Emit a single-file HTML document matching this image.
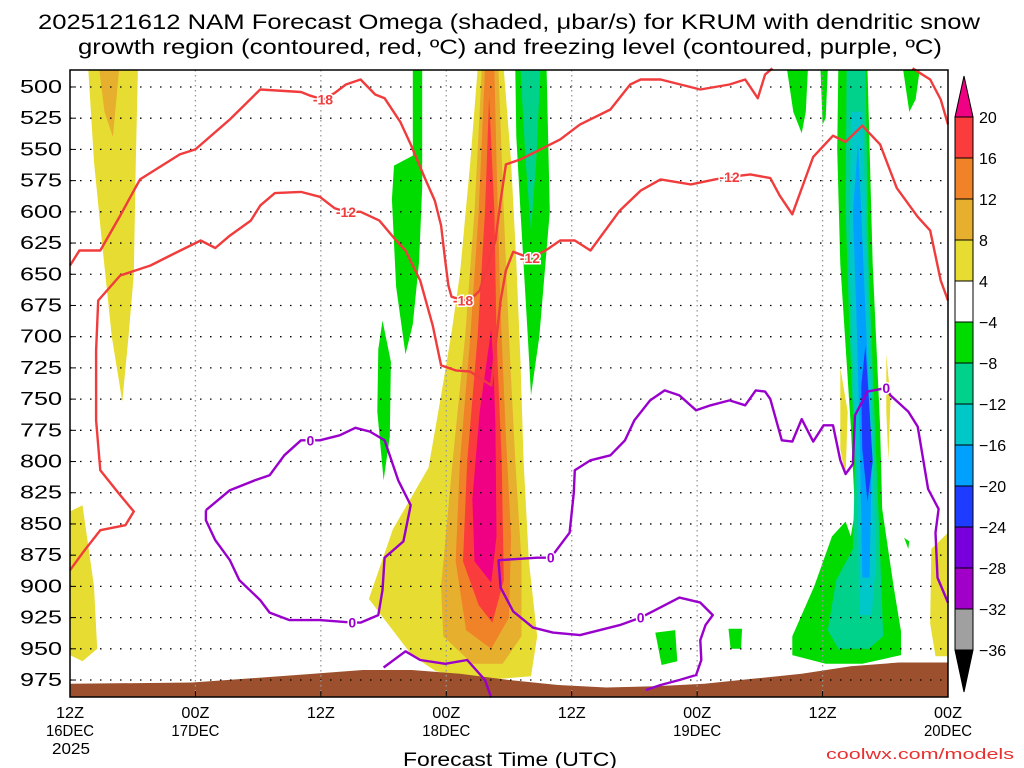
<!DOCTYPE html>
<html><head><meta charset="utf-8"><style>
body{margin:0;background:#fff}
svg{display:block;font-family:"Liberation Sans",sans-serif}
</style></head><body>
<svg id="chart" width="1024" height="768" viewBox="0 0 1024 768" xmlns="http://www.w3.org/2000/svg">
<text x="38" y="29" textLength="942" lengthAdjust="spacingAndGlyphs" font-size="21" fill="#000">2025121612 NAM Forecast Omega (shaded, μbar/s) for KRUM with dendritic snow</text>
<text x="78" y="54" textLength="864" lengthAdjust="spacingAndGlyphs" font-size="21" fill="#000">growth region (contoured, red, ºC) and freezing level (contoured, purple, ºC)</text>
<g id="shades"></g>
<g id="terrain"></g>
<g id="grid"></g>
<g id="contours"></g>
<rect x="70" y="70" width="878" height="627" fill="none" stroke="#000" stroke-width="1.5"/>
<g id="yaxis"></g>
<g id="xaxis"></g>
<g id="cbar"></g>
<text x="403" y="766" textLength="214" lengthAdjust="spacingAndGlyphs" font-size="19" fill="#000">Forecast Time (UTC)</text>
<text x="826" y="759" textLength="188" lengthAdjust="spacingAndGlyphs" font-size="15" fill="#e83030">coolwx.com/models</text>
</svg>
<script>
// axes data
const pressureTicks=[500,525,550,575,600,625,650,675,700,725,750,775,800,825,850,875,900,925,950,975];
const timeTicks=[0,12,24,36,48,60,72,84];
const timeLabels1=["12Z","00Z","12Z","00Z","12Z","00Z","12Z","00Z"];
const timeLabels2=["16DEC","17DEC","","18DEC","","19DEC","","20DEC"];
const cbarLevels=[20,16,12,8,4,-4,-8,-12,-16,-20,-24,-28,-32,-36];
const cbarColors=["#fa3c3c","#f08228","#e6af2d","#e6dc32","#ffffff","#00dc00","#00d28c","#00c8c8","#00a0ff","#1e3cff","#7800dc","#a000c8","#a0a0a0"];
// terrain (forecast hour, hPa)
const terrainHours=[0,11.7,23.3,28,32.7,37.3,42,46.7,51.3,56,60.7,65.3,70,74.7,79.3,84];
const terrainP=[978,977,970,967,967,970,975,979,981,980,978,974,970,964,961,961];
// shaded omega regions: [hour,hPa] polygons
const shadeYellow=[
 [[39.0,486],[38.3,560],[37.3,650],[36.5,697],[35.5,747],[34.3,805],[30.9,854],[28.6,910],[29.5,920],[32.7,955],[35,968],[39.7,975],[44.1,972],[44.7,940],[43.9,880],[43.4,800],[43.1,720],[42.7,640],[42.2,560],[41.5,486]],
 [[1.75,486],[6.5,486],[6.3,560],[6.1,650],[5.6,700],[5.0,752],[4.0,700],[3.0,620],[2.3,560]],
 [[0,840],[1.2,835],[2.3,900],[2.6,950],[1.2,960],[0,955]],
 [[73.7,725],[74.4,760],[74.2,812],[73.7,790]],
 [[78.1,714],[78.5,750],[78.3,799],[78.1,760]],
 [[84,857],[82.4,870],[82.3,930],[82.8,956],[84,956]]
];
const shadeOrangeLight=[
 [[39.4,486],[38.7,600],[37.8,700],[36.6,800],[35.5,900],[35.7,940],[38.5,962],[41.4,962],[43.2,940],[43.2,880],[42.6,800],[42,700],[41.5,600],[41.0,486]],
 [[2.8,486],[4.7,486],[4.1,540],[3.3,520]]
];
const shadeOrange=[[[39.7,486],[39.1,600],[38.3,700],[37.3,800],[36.9,880],[37.9,935],[40.3,950],[42,925],[42.2,860],[41.7,780],[41.2,680],[40.8,560],[40.6,486]]];
const shadeRed=[[[40.1,508],[39.7,600],[39.0,700],[38.0,800],[37.6,880],[39.1,915],[40.4,929],[41.5,895],[41.3,800],[40.8,700],[40.6,600]]];
const shadeMagenta=[[[40.3,694],[39.2,760],[38.5,830],[38.7,880],[40.3,897],[40.8,860],[40.7,770],[40.5,720]]];
const shadeGreen=[
 [[32.8,486],[33.7,486],[33.7,580],[33.4,640],[32.8,690],[32.1,714],[31.2,660],[30.8,590],[31.0,563],[32.8,555]],
 [[29.9,687],[30.7,720],[30.6,780],[30.0,815],[29.4,760],[29.5,710]],
 [[42.6,486],[45.6,486],[45.9,600],[44.9,700],[44.1,747],[43.8,700],[43.1,600],[42.7,540]],
 [[73.5,486],[76.3,486],[76.8,642],[77.5,772],[77.7,838],[78.8,900],[79.5,936],[79.5,955],[75.8,962],[72.3,962],[69.1,955],[69.1,940],[71.2,900],[72.9,860],[74.2,848],[74.7,860],[75.1,840],[74.7,772],[73.7,642],[73.4,550]],
 [[68.6,486],[70.6,486],[70.4,520],[70.0,537],[69.2,520]],
 [[71.8,486],[72.5,486],[72.3,525],[72.0,530]],
 [[79.7,486],[81.3,486],[80.9,510],[80.3,520]],
 [[56.0,937],[57.9,935],[58.1,960],[56.6,963]],
 [[63.0,934],[64.3,934],[64.2,950],[63.2,950]],
 [[79.8,861],[80.3,864],[80.2,870]]
];
const shadeTeal=[
 [[43.1,486],[45.0,486],[44.6,560],[44.1,615],[43.6,560]],
 [[74.3,486],[76.1,486],[76.4,640],[77.0,770],[77.4,850],[77.8,940],[76.4,950],[73.5,950],[72.5,935],[73.3,895],[74.9,870],[75.1,800],[74.6,700],[74.2,600]]
];
const shadeCyan=[[[74.7,520],[75.8,520],[76.3,650],[76.8,780],[77.1,880],[76.7,923],[75.5,923],[75.4,850],[75.0,750],[74.6,640]]];
const shadeBlue=[[[75.4,544],[75.7,600],[76.2,700],[76.7,800],[76.5,893],[75.8,893],[75.6,800],[75.3,700],[74.9,600]]];
const shadeDarkBlue=[[[76.1,707],[76.5,760],[76.8,800],[76.3,832],[75.8,790],[75.7,740]]];
// contours [hour,hPa]
const contourM18a=[[0,643],[0.9,631],[2.9,631],[4.8,603],[6.7,574],[10.5,554],[12.0,550],[15.3,526],[18.2,502],[22.1,504],[23.0,507],[24.2,510],[25.3,505],[26.4,498],[27.8,494],[29.2,506],[30.1,509],[31.6,528],[32.6,546],[34.0,574],[34.9,591],[35.5,611],[35.9,639],[36.2,659],[36.5,668],[37.6,671],[38.6,668],[39.2,663],[40.7,623],[41.2,591],[41.7,562],[43.1,558],[45.0,550],[46.9,542],[48.8,530],[51.7,518],[53.6,498],[54.6,494],[56.5,494],[60.3,502],[63.1,498],[64.6,494],[65.8,509],[66.5,490],[67.2,485]];
const contourM18b=[[80.6,485],[82.3,494],[83.3,510],[84,530]];
const contourM12=[[0,887],[1.4,871],[2.9,855],[5.3,851],[6.1,840],[4.8,827],[2.9,807],[2.5,767],[2.5,711],[2.7,671],[4.8,651],[7.7,643],[9.6,635],[12.5,623],[13.9,629],[15.3,619],[17.3,607],[18.2,595],[19.6,585],[22.1,584],[23.9,588],[25.3,597],[26.4,600],[27.8,600],[29.6,607],[31.2,623],[32.1,631],[33.5,655],[34.7,691],[35.5,723],[36.9,727],[38.3,728],[40.3,739],[41.2,671],[41.7,647],[42.4,632],[44.0,637],[45.5,631],[46.9,623],[48.3,623],[49.8,631],[52.6,599],[54.6,583],[56.5,574],[59.4,578],[61.7,574],[63.1,572],[65.1,570],[67.0,573],[67.9,587],[69.1,602],[71.1,556],[73.0,539],[74.2,544],[75.8,531],[77.5,546],[79.1,581],[81.1,604],[82.3,615],[83.3,655],[84,671]];
const contourZeroA=[[13.0,839],[15.3,823],[17.7,815],[19.1,811],[20.5,795],[22.1,783],[23.0,783],[23.9,783],[25.8,779],[27.3,773],[28.7,776],[30.1,783],[31.4,815],[32.6,835],[31.9,864],[30.1,877],[29.9,903],[29.5,923],[27.8,929],[27.0,929],[23.9,927],[21.0,927],[19.1,921],[18.2,911],[16.2,895],[15.3,879],[13.9,863],[13.0,847],[13.0,839]];
const contourZeroB=[[30.0,965],[32.1,952],[33.5,959],[35.9,962],[38.0,959],[39.7,975],[40.3,989]];
const contourZeroC=[[55.1,983],[56.5,979],[58.3,975],[59.9,971],[60.4,959],[60.3,943],[60.8,931],[61.5,923],[60.3,913],[58.3,909],[56.0,919],[54.6,925],[52.6,931],[48.8,939],[46.2,937],[44.3,933],[42.4,920],[41.2,901],[41.0,879],[44.7,877],[46.0,877],[47.8,857],[48.2,825],[48.3,807],[49.8,799],[51.7,795],[53.1,783],[54.0,767],[55.5,751],[56.9,743],[58.3,747],[59.9,759],[61.3,755],[63.1,751],[64.6,755],[65.6,743],[66.5,744],[67.0,750],[68.1,783],[69.1,784],[70.0,766],[71.1,784],[72.1,771],[73.0,771],[73.7,799],[74.2,810],[74.9,802],[75.1,763],[76.3,744],[78.1,741],[78.5,747],[80.2,760],[81.1,772],[82.1,822],[83.1,838],[82.8,857],[83.0,893],[84,913]];
const redLabels=[["-18",24.2,510],["-18",37.6,671],["-12",26.4,600],["-12",44.0,637],["-12",63.1,572]];
const zeroLabels=[[23.0,783],[27.0,929],[46.0,877],[54.6,925],[78.1,741]];

const NS="http://www.w3.org/2000/svg";
const X0=70,X1=948,HMAX=84,PTOP=486.4,PBOT=988.6,Y0=70,Y1=697;
function xs(h){return X0+(X1-X0)*h/HMAX;}
function ys(p){return Y0+(Y1-Y0)*(p-PTOP)/(PBOT-PTOP);}
function mk(tag,attrs,parent){const e=document.createElementNS(NS,tag);for(const k in attrs)e.setAttribute(k,attrs[k]);parent.appendChild(e);return e;}
const shades=document.getElementById('shades');
function drawPolys(list,color,name){list.forEach(poly=>{const pts=poly.map(d=>xs(d[0]).toFixed(1)+','+ys(d[1]).toFixed(1)).join(' ');
 const e=mk('polygon',{points:pts,fill:color},shades);
 
 });}
drawPolys(shadeYellow,"#e6dc32","omega-4-8");
drawPolys(shadeOrangeLight,"#e6af2d","omega-8-12");
drawPolys(shadeOrange,"#f08228","omega-12-16");
drawPolys(shadeRed,"#fa3c3c","omega-16-20");
drawPolys(shadeMagenta,"#f00082","omega-over-20");
drawPolys(shadeGreen,"#00dc00","omega-minus4-8");
drawPolys(shadeTeal,"#00d28c","omega-minus8-12");
drawPolys(shadeCyan,"#00c8c8","omega-minus12-16");
drawPolys(shadeBlue,"#00a0ff","omega-minus16-20");
drawPolys(shadeDarkBlue,"#1e3cff","omega-minus20-24");
// terrain
const tg=document.getElementById('terrain');
let tp='M'+xs(0)+','+Y1+' '+terrainHours.map((h,i)=>'L'+xs(h).toFixed(1)+','+ys(terrainP[i]).toFixed(1)).join(' ')+' L'+xs(HMAX)+','+Y1+' Z';
const terr=mk('path',{d:tp,fill:"#9c502d"},tg);


// grid + axes
const grid=document.getElementById('grid'),ya=document.getElementById('yaxis'),xa=document.getElementById('xaxis');
pressureTicks.forEach(p=>{const y=ys(p);
 const g=mk('line',{x1:X0,x2:X1,y1:y,y2:y,stroke:"#000","stroke-width":1.3,"stroke-dasharray":"1.5 8.5"},grid);
 
 
 mk('line',{x1:X0,x2:X0+6,y1:y,y2:y,stroke:"#000"},ya);
 const t=mk('text',{x:20,y:y+6,textLength:42,lengthAdjust:"spacingAndGlyphs","font-size":18,fill:"#000"},ya);t.textContent=p;
 
 });
timeTicks.forEach((h,i)=>{const x=xs(h);
 if(i>0&&i<timeTicks.length-1){const g=mk('line',{x1:x,x2:x,y1:Y0,y2:Y1,stroke:"#999","stroke-width":1.3,"stroke-dasharray":"1.5 3.5"},grid);
 
 }
 mk('line',{x1:x,x2:x,y1:Y1,y2:Y1-6,stroke:"#000"},xa);
 const t=mk('text',{x:x-14,y:718,textLength:28,lengthAdjust:"spacingAndGlyphs","font-size":16,fill:"#000"},xa);t.textContent=timeLabels1[i];
 
 
 if(timeLabels2[i]){const t2=mk('text',{x:x-24,y:736,textLength:48,lengthAdjust:"spacingAndGlyphs","font-size":16,fill:"#000"},xa);t2.textContent=timeLabels2[i];
 
 }});
const yr=mk('text',{x:52,y:754,textLength:38,lengthAdjust:"spacingAndGlyphs","font-size":16,fill:"#000"},xa);yr.textContent="2025";


// contours
const cg=document.getElementById('contours');
function line(pts,color,name){const d=pts.map((q,i)=>(i?'L':'M')+xs(q[0]).toFixed(1)+','+ys(q[1]).toFixed(1)).join(' ');
 const e=mk('path',{d:d,fill:"none",stroke:color,"stroke-width":2.4,"stroke-linejoin":"round"},cg);
 
 }
line(contourM18a,"#f03c3c","contour-minus18");
line(contourM18b,"#f03c3c","contour-minus18-b");
line(contourM12,"#f03c3c","contour-minus12");
line(contourZeroA,"#9900cc","contour-freezing-a");
line(contourZeroB,"#9900cc","contour-freezing-b");
line(contourZeroC,"#9900cc","contour-freezing-c");
redLabels.forEach(l=>{const x=xs(l[1]),y=ys(l[2]);
 const t=mk('text',{x:x,y:y+5,"text-anchor":"middle","font-size":14,"font-weight":"bold",fill:"#f03c3c",stroke:"#fff","stroke-width":3,"paint-order":"stroke"},cg);t.textContent=l[0];
 
 });
zeroLabels.forEach(l=>{const x=xs(l[0]),y=ys(l[1]);
 const t=mk('text',{x:x,y:y+5,"text-anchor":"middle","font-size":14,"font-weight":"bold",fill:"#9900cc",stroke:"#fff","stroke-width":3,"paint-order":"stroke"},cg);t.textContent="0";
 
 });
// colorbar
const cb=document.getElementById('cbar');
const CBX=955,CBW=18,CBTOP=117,CBSTEP=(650-117)/13;
const up=mk('polygon',{points:`${CBX},${CBTOP} ${CBX+CBW},${CBTOP} ${CBX+CBW/2},76`,fill:"#f00082",stroke:"#000"},cb);


cbarColors.forEach((c,i)=>{const r=mk('rect',{x:CBX,y:CBTOP+i*CBSTEP,width:CBW,height:CBSTEP,fill:c,stroke:"#000"},cb);
 
 });
const dn=mk('polygon',{points:`${CBX},650 ${CBX+CBW},650 ${CBX+CBW/2},692`,fill:"#000",stroke:"#000"},cb);


cbarLevels.forEach((v,i)=>{const t=mk('text',{x:979,y:CBTOP+i*CBSTEP+6,"font-size":16,fill:"#000"},cb);t.textContent=v<0?'\u2212'+(-v):v;
 
 });
</script>
</body></html>
